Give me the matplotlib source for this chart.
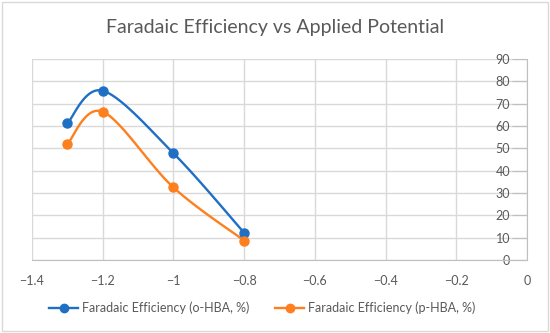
import numpy as np
import matplotlib.pyplot as plt
from matplotlib.patches import Rectangle

# data
potential = [-1.3, -1.2, -1.0, -0.8]
fe_ortho = [61.2, 75.8, 47.8, 12.2]
fe_para = [51.9, 66.4, 32.5, 8.7]

x_ticks = [-1.4, -1.2, -1.0, -0.8, -0.6, -0.4, -0.2, 0]
x_labels = ['\u22121.4', '\u22121.2', '\u22121', '\u22120.8', '\u22120.6', '\u22120.4', '\u22120.2', '0']
y_ticks = list(range(0, 100, 10))

plt.rcParams['font.family'] = ['Lato', 'DejaVu Sans']


def excel_smooth(xs, ys, n=40):
    """Bezier smoothing like Excel's 'smoothed line' (Catmull-Rom style)."""
    pts = np.column_stack([xs, ys]).astype(float)
    # work in roughly square units so the curve looks like Excel's
    scale = np.array([353.6, 2.233])
    p = pts * scale
    out = [p[0]]
    for i in range(len(p) - 1):
        p0 = p[i - 1] if i > 0 else p[i]
        p3 = p[i + 2] if i + 2 < len(p) else p[i + 1]
        c1 = p[i] + (p[i + 1] - p0) / 6
        c2 = p[i + 1] - (p3 - p[i]) / 6
        t = np.linspace(0, 1, n)[1:, None]
        seg = ((1 - t) ** 3) * p[i] + 3 * (1 - t) ** 2 * t * c1 + 3 * (1 - t) * t ** 2 * c2 + t ** 3 * p[i + 1]
        out.extend(seg)
    out = np.array(out) / scale
    return out[:, 0], out[:, 1]


fig = plt.figure(figsize=(5.5, 3.33), dpi=100)
ax = fig.add_axes([32 / 550, 1 - 260 / 333, 495 / 550, 201 / 333])

grey = '#595959'
blue = '#1f6fc5'
orange = '#fd7f1d'

for ys, col, lab in [(fe_ortho, blue, 'Faradaic Efficiency (o-HBA, %)'),
                     (fe_para, orange, 'Faradaic Efficiency (p-HBA, %)')]:
    sx, sy = excel_smooth(potential, ys)
    ax.plot(sx, sy, color=col, lw=1.7, solid_capstyle='round', zorder=3)
    ax.plot(potential, ys, 'o', color=col, ms=6.5, zorder=4)
    ax.plot([], [], '-o', color=col, lw=1.7, ms=6, label=lab)

ax.set_xlim(-1.4, 0)
ax.set_ylim(0, 90)
ax.set_xticks(x_ticks)
ax.set_xticklabels(x_labels)
ax.set_yticks(y_ticks)

ax.grid(True, color='#d9d9d9', lw=1)
ax.set_axisbelow(True)
for s in ['top', 'right']:
    ax.spines[s].set_visible(False)
ax.spines['left'].set_position(('data', 0))
ax.spines['left'].set_color('#bfbfbf')
ax.spines['bottom'].set_color('#bfbfbf')
ax.tick_params(axis='y', length=11, color='#bfbfbf', labelcolor=grey, labelsize=9, pad=1)
ax.tick_params(axis='x', length=0, labelcolor=grey, labelsize=9, pad=11)

fig.text(0.5, 1 - 27 / 333, 'Faradaic Efficiency vs Applied Potential',
         ha='center', va='center', fontsize=14, color=grey)

leg = fig.legend(loc='center', bbox_to_anchor=(0.477, 1 - 308 / 333), ncol=2,
                 frameon=False, fontsize=9, handlelength=2.3, columnspacing=2.1,
                 handletextpad=0.3)
for t in leg.get_texts():
    t.set_color(grey)

fig.patches.append(Rectangle((2 / 550, 2 / 333), 546 / 550, 329 / 333,
                             transform=fig.transFigure, fill=False,
                             edgecolor='#d9d9d9', lw=1))

fig.savefig('out.png', dpi=100, facecolor='white')
